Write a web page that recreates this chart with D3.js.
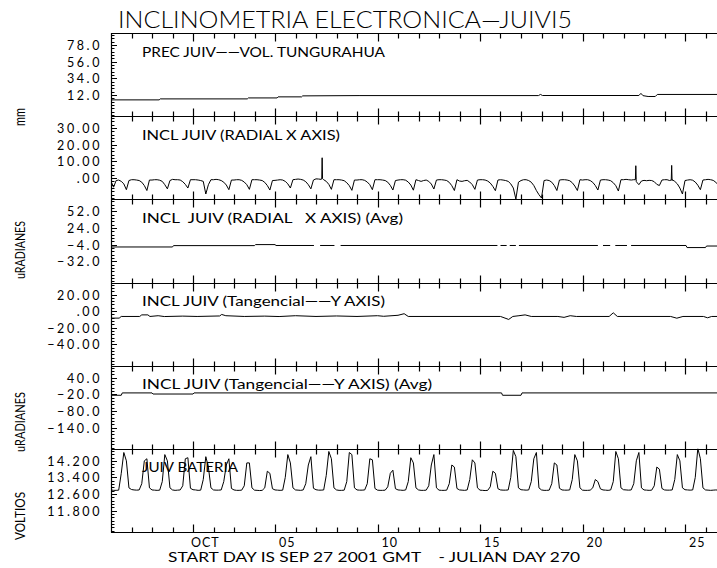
<!DOCTYPE html>
<html>
<head>
<meta charset="utf-8">
<script src="https://cdn.jsdelivr.net/npm/d3@7"></script>
<style>
  body { margin: 0; background: #fff; }
  svg { display: block; color: #000; }
  text { font-family: Lato, "DejaVu Sans", sans-serif; fill: #000; }
</style>
</head>
<body>
<svg id="chart" width="717" height="568"></svg>
<script>
const START = Date.UTC(2001, 8, 27);   // SEP 27 2001 GMT, julian day 270
const DAY = 864e5;

// x axis
const xMajorDates = ["2001-10-01", "2001-10-05", "2001-10-10", "2001-10-15", "2001-10-20", "2001-10-25"];
const xMajorLabels = ["OCT", "05", "10", "15", "20", "25"];

// y axes (values and how they are printed)
const precTicks = [78, 56, 34, 12];
const precLabels = ["78.0", "56.0", "34.0", "12.0"];
const precDomain = [-16.13, 93.87];

const radialTicks = [30, 20, 10, 0];
const radialLabels = ["30.00", "20.00", "10.00", ".00"];
const radialDomain = [-12.8, 37.2];

const radialAvgTicks = [52, 24, -4, -32];
const radialAvgLabels = ["52.0", "24.0", "\u22124.0", "\u221232.0"];
const radialAvgDomain = [-67.8, 72.2];

const tangTicks = [20, 0, -20, -40];
const tangLabels = ["20.00", ".00", "\u221220.00", "\u221240.00"];
const tangDomain = [-65.57, 34.43];

const tangAvgTicks = [40, -20, -80, -140];
const tangAvgLabels = ["40.0", "\u221220.0", "\u221280.0", "\u2212140.0"];
const tangAvgDomain = [-216.7, 83.3];

const batTicks = [14.2, 13.4, 12.6, 11.8];
const batLabels = ["14.200", "13.400", "12.600", "11.800"];
const batDomain = [10.777, 14.777];

// series: [day since start, value]
const precData = [
  [0, 5.4], [2.35, 5.4], [2.4, 6.7], [6.65, 6.7], [6.7, 8.0], [8.1, 8.0], [8.15, 9.4],
  [9.3, 9.4], [9.35, 10.7], [12.1, 11.1], [20.85, 11.1], [20.95, 12.6], [21.05, 11.2],
  [25.75, 11.2], [25.85, 14.0], [25.95, 11.0], [26.2, 9.9], [26.55, 9.9], [26.65, 12.6], [30, 12.6]
];

// radial X axis, every 3 hours from day 0 (h00 h03 h06 h09 h12 h15 h18 h21)
const radialX = [
  -2.0, -5.5, -1.5, -1.2, -2.0, -3.5, -7.0, -1.5,
  -1.0, -1.0, -1.2, -1.5, -2.5, -4.5, -7.5, -1.2,
  -1.2, -1.0, -1.0, -1.3, -2.0, -4.0, -6.5, -1.5,
  -0.8, -1.0, -1.0, -1.2, -2.2, -3.8, -6.0, -1.0,
  -1.0, -1.0, -1.2, -1.5, -2.0, -9.6, -4.0, -1.0,
  -1.0, -0.8, -1.0, -1.5, -2.5, -4.2, -7.0, -1.2,
  -1.2, -1.0, -1.0, -1.4, -2.4, -4.0, -6.8, -1.0,
  -1.0, -1.0, -1.2, -1.5, -2.6, -4.5, -7.2, -1.5,
  -1.4, -1.2, -1.0, -1.2, -2.0, -3.5, -6.0, -1.0,
  -0.8, -0.6, -0.8, -1.2, -2.2, -4.0, -6.5, -1.2,
  -0.5, -0.6, -0.8, -1.0, -2.0, -3.8, -6.8, -1.0,
  -1.0, -1.0, -1.2, -1.6, -2.8, -4.6, -7.4, -1.2,
  -1.2, -1.0, -1.0, -1.4, -2.4, -4.0, -7.0, -1.0,
  -1.0, -1.0, -1.2, -1.5, -2.5, -4.4, -7.2, -1.5,
  -1.2, -1.0, -1.0, -1.3, -2.4, -4.2, -7.3, -1.0,
  -1.5, -2.0, -1.5, -1.2, -2.0, -3.6, -6.6, -1.2,
  -1.0, -1.0, -1.2, -1.5, -2.6, -4.6, -7.5, -1.0,
  -1.8, -2.0, -1.6, -1.4, -2.4, -4.0, -6.8, -1.2,
  -1.0, -1.0, -1.2, -1.8, -3.0, -5.0, -7.6, -1.2,
  -1.0, -1.2, -1.5, -2.0, -3.5, -6.0, -12.6, -2.5,
  -1.5, -1.0, -1.0, -1.5, -2.5, -4.5, -7.5, -10.0,
  -12.0, -1.5, -1.2, -1.5, -2.5, -4.5, -7.5, -1.2,
  -1.0, -1.0, -1.2, -1.6, -2.8, -4.8, -7.5, -1.0,
  -1.2, -1.0, -1.0, -1.5, -2.6, -4.5, -7.2, -1.2,
  -1.0, -1.0, -1.2, -1.6, -2.8, -4.6, -7.8, -1.0,
  -1.0, -0.8, -1.0, -1.2, -1.0, -2.2, -4.0, -1.8,
  -1.4, -1.6, -1.4, -1.5, -2.2, -3.8, -4.5, -1.2,
  -1.0, -1.0, -1.5, -1.0, -2.0, -3.5, -6.0, -9.6,
  -1.5, -1.2, -1.0, -1.3, -2.4, -4.3, -7.0, -1.2,
  -1.0, -0.8, -1.0, -1.4, -2.5, -4.2, -7.0, -1.2
];
const radialSpikes = [
  [10.28, -0.6], [10.30, 12.2], [10.32, -0.4],
  [25.58, -1.0], [25.60, 7.4], [25.62, -1.0],
  [27.33, -1.2], [27.35, 7.6], [27.37, -1.5]
];

// null = no data (gaps in the averaged trace)
const radialAvgData = [
  [0, -8.0], [3.0, -8.0], [3.05, -5.7], [7.0, -5.7], [7.05, -4.0], [8.0, -4.0], [8.05, -5.5],
  [9.9, -5.5], [9.95, null], [10.2, -5.5], [10.9, -5.5], [10.95, null], [11.2, -5.5],
  [18.85, -5.5], [18.9, null], [19.0, -5.5], [19.3, -5.5], [19.35, null], [19.45, -5.5],
  [19.75, -5.5], [19.8, null], [19.9, -5.5],
  [23.75, -5.5], [23.8, null], [24.0, -5.5], [24.35, -5.5], [24.4, null], [24.6, -5.5],
  [25.17, -5.5], [25.2, null], [25.37, -5.5],
  [28.05, -5.5], [28.1, -9.0], [29.0, -9.0], [29.05, -6.4], [30, -6.4]
];

const tangData = [
  [0, -8.4], [0.4, -8.4], [0.5, -6.4], [1.4, -6.4], [1.5, -4.5], [1.8, -4.5], [1.9, -6.4],
  [2.3, -5.5], [2.6, -6.5], [3.5, -6.0], [4.2, -6.4], [5.3, -5.8], [5.4, -4.0], [5.6, -5.5],
  [6.5, -6.4], [7.5, -6.0], [8.2, -6.5], [9.0, -5.5], [10.0, -6.4], [11.0, -5.8], [12.0, -6.4],
  [13.0, -5.5], [13.3, -6.2], [14.0, -5.0], [14.3, -3.1], [14.5, -6.4], [16.0, -6.4],
  [19.0, -6.4], [19.4, -10.0], [19.6, -6.4], [19.9, -5.5], [20.2, -4.5], [20.5, -6.4],
  [21.8, -6.4], [22.1, -7.5], [22.4, -5.5], [22.7, -6.4], [24.3, -6.4], [24.5, -2.0],
  [24.7, -6.4], [27.3, -6.4], [27.6, -8.5], [27.9, -6.4], [28.9, -6.4], [29.1, -8.0],
  [29.3, -6.4], [30, -6.4]
];

const tangAvgData = [
  [0, -23.5], [0.5, -23.5], [0.55, -15], [2.0, -15], [2.05, -19], [4.0, -19], [4.05, -15],
  [19.05, -15], [19.1, -23.5], [20.0, -23.5], [20.05, -15], [30, -15]
];

// battery volts, every 3 hours from day 0
const batteryVolts = [
  12.80, 12.78, 12.78, 12.79, 13.60, 14.60, 14.20, 12.90,
  12.82, 12.80, 12.79, 12.80, 13.10, 14.20, 14.30, 12.90,
  12.80, 12.79, 12.78, 12.79, 13.20, 14.50, 14.20, 12.90,
  12.80, 12.78, 12.79, 12.80, 13.00, 14.30, 14.35, 12.88,
  12.81, 12.80, 12.78, 12.79, 13.30, 14.40, 13.90, 12.90,
  12.80, 12.79, 12.79, 12.80, 13.20, 14.00, 14.30, 12.87,
  12.80, 12.78, 12.78, 12.79, 13.00, 14.10, 14.10, 12.90,
  12.79, 12.78, 12.77, 12.78, 12.90, 13.70, 13.60, 12.86,
  12.80, 12.79, 12.78, 12.79, 13.40, 14.50, 14.10, 12.90,
  12.80, 12.79, 12.78, 12.80, 13.10, 14.00, 14.40, 12.88,
  12.81, 12.79, 12.79, 12.80, 13.50, 14.65, 14.30, 12.90,
  12.80, 12.78, 12.78, 12.79, 13.20, 14.60, 14.50, 12.90,
  12.80, 12.79, 12.79, 12.80, 13.10, 14.30, 14.25, 12.87,
  12.79, 12.78, 12.78, 12.79, 12.95, 13.60, 13.75, 12.86,
  12.80, 12.79, 12.78, 12.80, 13.20, 14.35, 14.10, 12.90,
  12.80, 12.78, 12.78, 12.79, 13.00, 14.00, 14.50, 12.90,
  12.79, 12.78, 12.78, 12.79, 13.10, 14.00, 13.90, 12.87,
  12.80, 12.79, 12.78, 12.80, 13.30, 14.25, 14.10, 12.90,
  12.79, 12.78, 12.77, 12.78, 12.95, 13.70, 13.60, 12.86,
  12.80, 12.79, 12.79, 12.80, 13.40, 14.70, 14.40, 12.90,
  12.81, 12.80, 12.79, 12.80, 13.20, 14.30, 14.60, 12.90,
  12.80, 12.78, 12.78, 12.79, 13.10, 14.10, 14.00, 12.88,
  12.80, 12.79, 12.79, 12.80, 13.30, 14.50, 14.20, 12.90,
  12.79, 12.78, 12.78, 12.79, 12.90, 13.30, 13.20, 12.85,
  12.80, 12.79, 12.78, 12.80, 13.20, 14.65, 14.30, 12.90,
  12.81, 12.80, 12.79, 12.80, 13.10, 14.20, 14.60, 12.90,
  12.80, 12.79, 12.78, 12.79, 13.00, 13.90, 13.80, 12.87,
  12.80, 12.79, 12.79, 12.80, 13.30, 14.50, 14.20, 12.90,
  12.81, 12.80, 12.79, 12.80, 13.40, 14.80, 14.30, 12.90,
  12.80, 12.79, 12.78, 12.79, 12.80, 12.79, 12.80, 12.79
];

const unitNames = ["mm", "uRADIANES", "uRADIANES", "VOLTIOS"];
const footer = "START DAY IS SEP 27 2001 GMT    - JULIAN DAY 270";

// ---- build series
const toDate = d => new Date(START + d * DAY);
const fromPairs = arr => arr.map(([d, v]) => [toDate(d), v]);
const every3h = arr => arr.map((v, i) => [toDate(i / 8), v]);

const radialSeries = radialX.map((v, i) => [i / 8, v])
  .concat(radialSpikes)
  .sort((a, b) => a[0] - b[0])
  .map(([d, v]) => [toDate(d), v]);

const panels = [
  { title: "PREC JUIV\u2014\u2014VOL. TUNGURAHUA", domain: precDomain, ticks: precTicks, labels: precLabels, series: fromPairs(precData), tw: 243 },
  { title: "INCL JUIV (RADIAL X AXIS)", domain: radialDomain, ticks: radialTicks, labels: radialLabels, series: radialSeries, tw: 198 },
  { title: "INCL  JUIV (RADIAL   X AXIS) (Avg)", domain: radialAvgDomain, ticks: radialAvgTicks, labels: radialAvgLabels, series: fromPairs(radialAvgData), tw: 261 },
  { title: "INCL JUIV (Tangencial\u2014\u2014Y AXIS)", domain: tangDomain, ticks: tangTicks, labels: tangLabels, series: fromPairs(tangData), tw: 243 },
  { title: "INCL JUIV (Tangencial\u2014\u2014Y AXIS) (Avg)", domain: tangAvgDomain, ticks: tangAvgTicks, labels: tangAvgLabels, series: fromPairs(tangAvgData), tw: 290 },
  { title: "JUIV BATERIA", domain: batDomain, ticks: batTicks, labels: batLabels, series: every3h(batteryVolts), tw: 96 }
];

// ---- layout
const W = 717, H = 568;
const LEFT = 111, TOP = 33, BOTTOM = 532;
const panelH = (BOTTOM - TOP) / panels.length;

const svg = d3.select("#chart");

const x = d3.scaleUtc()
  .domain([toDate(0), toDate(30)])
  .range([LEFT, LEFT + 30 * 20.5]);

const majorDates = xMajorDates.map(s => new Date(s + "T00:00:00Z"));
const isMajor = d => majorDates.some(m => +m === +d);
const days = d3.utcDay.range(toDate(0), toDate(30));

const line = d3.line()
  .defined(d => d[1] != null)
  .x(d => x(d[0]))
  .y(d => d[1]);

const crisp = v => Math.round(v) + 0.5;
const tickPath = d3.path();   // frame and ticks, one path

panels.forEach((p, i) => {
  const top = TOP + i * panelH, bot = top + panelH;
  const y = d3.scaleLinear().domain(p.domain).range([bot, top]);
  const g = svg.append("g");

  // data trace
  const clipId = "clip" + i;
  svg.append("clipPath").attr("id", clipId)
    .append("rect")
    .attr("x", LEFT).attr("y", top).attr("width", W - LEFT).attr("height", panelH);

  g.append("path")
    .datum(p.series.map(d => [d[0], d[1] == null ? null : y(d[1])]))
    .attr("clip-path", `url(#${clipId})`)
    .attr("fill", "none")
    .attr("stroke", "#000")
    .attr("stroke-width", 1)
    .attr("d", line);

  // panel borders
  const yt = crisp(top), yb = crisp(bot);
  tickPath.moveTo(LEFT, yt); tickPath.lineTo(W, yt);
  tickPath.moveTo(LEFT, yb); tickPath.lineTo(W, yb);

  // day ticks inside the panel, top and bottom
  days.forEach(d => {
    const len = isMajor(d) ? 8 : 5;
    const xx = crisp(x(d));
    tickPath.moveTo(xx, yt); tickPath.lineTo(xx, yt + len);
    tickPath.moveTo(xx, yb); tickPath.lineTo(xx, yb - len);
  });

  // y ticks: minor every fifth of a label step, longer at labels
  const step = p.ticks[0] - p.ticks[1];
  d3.range(-10, 40).map(k => p.ticks[0] - k * step / 5)
    .filter(v => v >= p.domain[0] && v <= p.domain[1])
    .forEach(v => {
      const major = p.ticks.some(t => Math.abs(t - v) < step / 50);
      const yy = crisp(y(v));
      tickPath.moveTo(LEFT, yy); tickPath.lineTo(LEFT + (major ? 6 : 3.5), yy);
    });

  // y labels
  g.append("g")
    .attr("transform", `translate(${LEFT},0)`)
    .call(d3.axisLeft(y).tickValues(p.ticks).tickSize(0).tickPadding(9)
      .tickFormat((d, j) => p.labels[j]))
    .call(a => a.select(".domain").remove())
    .attr("font-family", "Lato, 'DejaVu Sans', sans-serif")
    .attr("font-size", 12.5)
    .selectAll("text")
    .attr("letter-spacing", 2.6)
    .attr("dy", "0.36em");

  // panel caption
  g.append("text")
    .attr("x", 142)
    .attr("y", top + 23.5)
    .attr("font-size", 12.5)
    .attr("textLength", p.tw)
    .attr("lengthAdjust", "spacingAndGlyphs")
    .style("white-space", "pre")
    .text(p.title);
});

// left axis line
tickPath.moveTo(LEFT + 0.5, TOP);
tickPath.lineTo(LEFT + 0.5, BOTTOM + 0.5);

// title
svg.append("text")
  .attr("x", 118)
  .attr("y", 28)
  .attr("font-size", 23)
  .attr("font-weight", 300)
  .attr("textLength", 454)
  .attr("lengthAdjust", "spacingAndGlyphs")
  .text("INCLINOMETRIA ELECTRONICA\u2014JUIVI5");

// date labels under the bottom panel
svg.selectAll(".xlab")
  .data(majorDates)
  .join("text")
  .attr("class", "xlab")
  .attr("x", (d) => x(new Date(+d + 0.6 * DAY)))
  .attr("y", 547)
  .attr("text-anchor", "middle")
  .attr("font-size", 12.5)
  .attr("letter-spacing", 1)
  .text((d, i) => xMajorLabels[i]);

svg.append("text")
  .attr("x", 168)
  .attr("y", 562)
  .attr("font-size", 12.5)
  .attr("textLength", 412)
  .attr("lengthAdjust", "spacingAndGlyphs")
  .style("white-space", "pre")
  .text(footer);

// unit labels, rotated
const unitCenters = [117, 250, 422, 516];
const unitLens = [18, 58, 60, 48];
const unitSizes = [16, 13, 13, 13];
unitNames.forEach((u, i) => {
  svg.append("text")
    .attr("transform", `translate(25,${unitCenters[i]}) rotate(-90)`)
    .attr("text-anchor", "middle")
    .attr("font-size", unitSizes[i])
    .attr("textLength", unitLens[i])
    .attr("lengthAdjust", "spacingAndGlyphs")
    .text(u);
});

// frame and ticks on top
svg.append("path")
  .attr("class", "frame")
  .attr("d", tickPath.toString())
  .attr("fill", "none")
  .attr("stroke", "#000")
  .attr("stroke-width", 1.2);
</script>
</body>
</html>
